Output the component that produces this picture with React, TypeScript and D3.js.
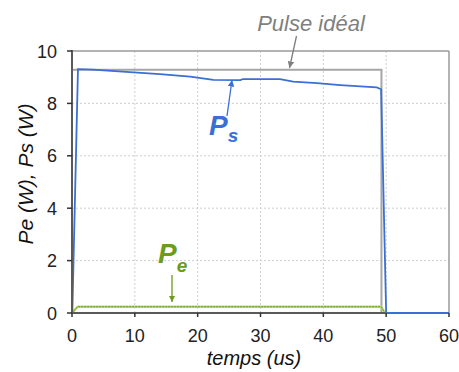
import React from "react";
import * as d3 from "d3";

const xTicks = [0, 10, 20, 30, 40, 50, 60];
const yTicks = [0, 2, 4, 6, 8, 10];

const psX = [0.05, 0.95, 3.3, 9.2, 14, 18.8, 22.5, 26.8, 27.2, 33.1, 35.2, 39.0, 42.7, 48.5, 49.2, 50.0, 60];
const psY = [0, 9.31, 9.29, 9.19, 9.12, 9.02, 8.9, 8.89, 8.93, 8.93, 8.83, 8.77, 8.7, 8.61, 8.54, 0, 0];

const peX = [0, 0.9, 49.2, 49.8, 50];
const peY = [0, 0.24, 0.24, 0, 0];

const idealX = [0, 0, 49.25, 49.25];
const idealY = [0, 9.28, 9.28, 0];

const W = 459, H = 372;
const L = 72, R = 449, T = 51, B = 313;

export default function App() {
  const x = d3.scaleLinear().domain([0, 60]).range([L, R]);
  const y = d3.scaleLinear().domain([0, 10]).range([B, T]);
  const line = d3.line<[number, number]>().x(d => x(d[0])).y(d => y(d[1]));
  const ps = line(psX.map((v, i) => [v, psY[i]]))!;
  const pe = line(peX.map((v, i) => [v, peY[i]]))!;
  const ideal = line(idealX.map((v, i) => [v, idealY[i]]))!;
  const font = "'Liberation Sans', Arial, sans-serif";
  const blue = "#3a6fd6";
  const green = "#6c9c1c";
  const grey = "#7f7f7f";
  return (
    <svg width={W} height={H} style={{ position: "absolute", left: 0, top: 0, background: "#fff" }} fontFamily={font}>
      <defs>
        <marker id="ag" viewBox="0 0 10 10" refX="10" refY="5" markerWidth="5" markerHeight="5" orient="auto">
          <path d="M0,0L10,5L0,10z" fill={grey} />
        </marker>
        <marker id="ab" viewBox="0 0 10 10" refX="10" refY="5" markerWidth="5" markerHeight="5" orient="auto">
          <path d="M0,0L10,5L0,10z" fill={blue} />
        </marker>
        <marker id="agr" viewBox="0 0 10 10" refX="10" refY="5" markerWidth="5" markerHeight="5" orient="auto">
          <path d="M0,0L10,5L0,10z" fill={green} />
        </marker>
      </defs>
      {xTicks.filter(t => t > 0 && t < 60).map(t => (
        <line key={"gx" + t} x1={x(t)} x2={x(t)} y1={T} y2={B} stroke="#cfcfcf" strokeWidth={1} strokeDasharray="2,2" />
      ))}
      {yTicks.filter(t => t > 0 && t < 10).map(t => (
        <line key={"gy" + t} x1={L} x2={R} y1={y(t)} y2={y(t)} stroke="#cfcfcf" strokeWidth={1} strokeDasharray="2,2" />
      ))}
      <line x1={L} x2={R} y1={T} y2={T} stroke="#9a9a9a" strokeWidth={1.5} />
      <line x1={R} x2={R} y1={T} y2={B} stroke="#9a9a9a" strokeWidth={1.5} />
      <path d={ideal} fill="none" stroke="#a6a6a6" strokeWidth={2} />
      <path d={pe} fill="none" stroke="#b7d77a" strokeWidth={2.5} />
      <path d={pe} fill="none" stroke={green} strokeWidth={1} strokeDasharray="2,1" />
      <line x1={L} x2={R} y1={B} y2={B} stroke="#595959" strokeWidth={2} />
      <path d={ps} fill="none" stroke={blue} strokeWidth={1.8} />
      <line x1={L} x2={L} y1={T - 1} y2={B + 1} stroke="#595959" strokeWidth={2} />
      {xTicks.map(t => (
        <g key={"xt" + t}>
          <line x1={x(t)} x2={x(t)} y1={B} y2={B + 4} stroke="#333" strokeWidth={1.5} />
          <text x={x(t)} y={342} textAnchor="middle" fontSize={18} fill="#222">{t}</text>
        </g>
      ))}
      {yTicks.map(t => (
        <g key={"yt" + t}>
          <line x1={L - 5} x2={L} y1={y(t)} y2={y(t)} stroke="#333" strokeWidth={1.5} />
          <text x={57} y={y(t) + 6.5} textAnchor="end" fontSize={18} fill="#222">{t}</text>
        </g>
      ))}
      <text x={254} y={365} textAnchor="middle" fontSize={20} fontStyle="italic" fill="#111">temps (us)</text>
      <text transform={`translate(33,174) rotate(-90)`} textAnchor="middle" fontSize={21} fontStyle="italic" fill="#111">Pe (W), Ps (W)</text>
      <text x={311} y={30.5} textAnchor="middle" fontSize={22} fontStyle="italic" fill={grey}>Pulse idéal</text>
      <line x1={296.5} y1={36} x2={289.5} y2={68} stroke={grey} strokeWidth={1.3} markerEnd="url(#ag)" />
      <text x={209} y={135} fontSize={28} fontStyle="italic" fontWeight="bold" fill={blue}>P<tspan fontSize={19} dy={7}>s</tspan></text>
      <line x1={227} y1={116} x2={232} y2={80} stroke={blue} strokeWidth={1.3} markerEnd="url(#ab)" />
      <text x={158} y={263} fontSize={28} fontStyle="italic" fontWeight="bold" fill={green}>P<tspan fontSize={19} dy={9}>e</tspan></text>
      <line x1={172} y1={275} x2={172} y2={302} stroke={green} strokeWidth={1.3} markerEnd="url(#agr)" />
    </svg>
  );
}
